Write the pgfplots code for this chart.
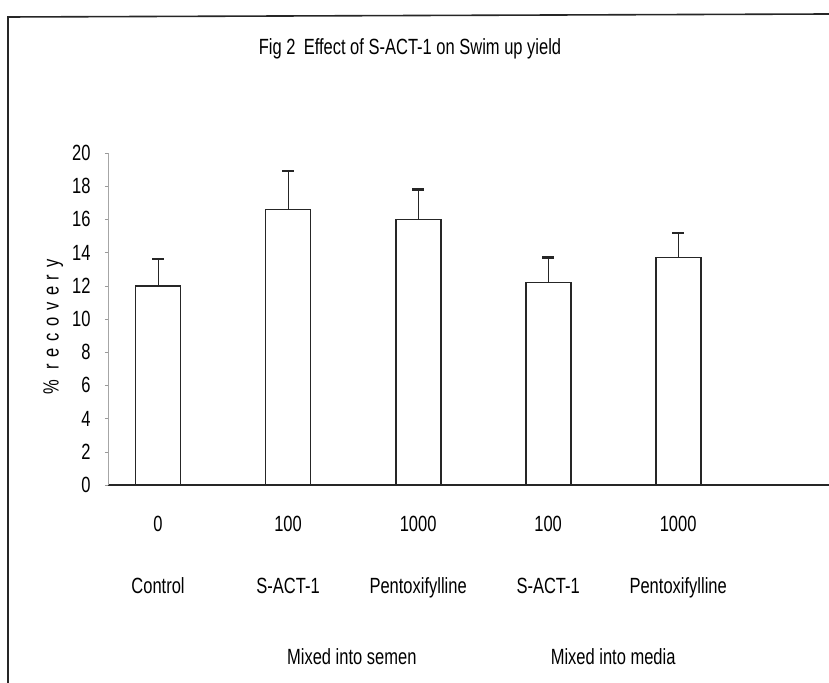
\documentclass[border=0pt]{standalone}
\usepackage{fontspec}
\setmainfont{Liberation Sans}[FakeStretch=0.75]
\usepackage{pgfplots}
\pgfplotsset{compat=1.18}
\begin{document}
\fontsize{22bp}{26bp}\selectfont
\begin{tikzpicture}
\useasboundingbox (-108bp,-198bp) rectangle (721bp,485bp);
% outer frame
\draw[line width=1.6bp,black!85] (-100bp,-198bp) -- (-100bp,468bp) -- (721bp,471bp);
\node[anchor=base] at (302bp,430bp) {Fig 2\, Effect of S-ACT-1 on Swim up yield};
\begin{axis}[
  at={(0,0)}, anchor=south west,
  scale only axis, width=721bp, height=332bp,
  xmin=-0.385, xmax=5.16, ymin=0, ymax=20,
  axis lines=left,
  x axis line style={-, line width=1.4bp, black!85},
  y axis line style={-, line width=0.5bp, black!35},
  ytick={0,2,...,20},
  ytick style={black!40, line width=0.6bp},
  major tick length=3bp, tick align=outside,
  yticklabel shift=7bp,
  yticklabel style={font=\fontsize{22bp}{26bp}\selectfont},
  xtick={0,1,2,3,4},
  xticklabels={0,100,1000,100,1000},
  xtick style={draw=none},
  xticklabel style={anchor=base, yshift=-43bp, font=\fontsize{22bp}{26bp}\selectfont},
  /pgf/number format/assume math mode=true,
  ylabel={\addfontfeature{LetterSpace=30}\% recovery},
  ylabel style={at={(axis description cs:-0.076,0.475)}, anchor=center, font=\fontsize{22bp}{26bp}\selectfont},
  clip=false,
  ybar, bar width=45bp,
]
\addplot[draw=black!85, fill=white, line width=1.8bp,
  error bars/.cd, y dir=plus, y explicit,
  error bar style={line width=0.8bp, black!85},
  error mark options={line width=2.2bp, mark size=6bp, black!85, rotate=90}]
  coordinates {
    (0,12.0) +- (0,1.6)
    (1,16.6) +- (0,2.3)
    (2,16.0) +- (0,1.8)
    (3,12.2) +- (0,1.5)
    (4,13.7) +- (0,1.5)
  };
\node[anchor=base, yshift=-108bp] at (axis cs:0,0) {Control};
\node[anchor=base, yshift=-108bp] at (axis cs:1,0) {S-ACT-1};
\node[anchor=base, yshift=-108bp] at (axis cs:2,0) {Pentoxifylline};
\node[anchor=base, yshift=-108bp] at (axis cs:3,0) {S-ACT-1};
\node[anchor=base, yshift=-108bp] at (axis cs:4,0) {Pentoxifylline};
\node[anchor=base, yshift=-179bp] at (axis cs:1.49,0) {Mixed into semen};
\node[anchor=base, yshift=-179bp] at (axis cs:3.5,0) {Mixed into media};
\end{axis}
\end{tikzpicture}
\end{document}
